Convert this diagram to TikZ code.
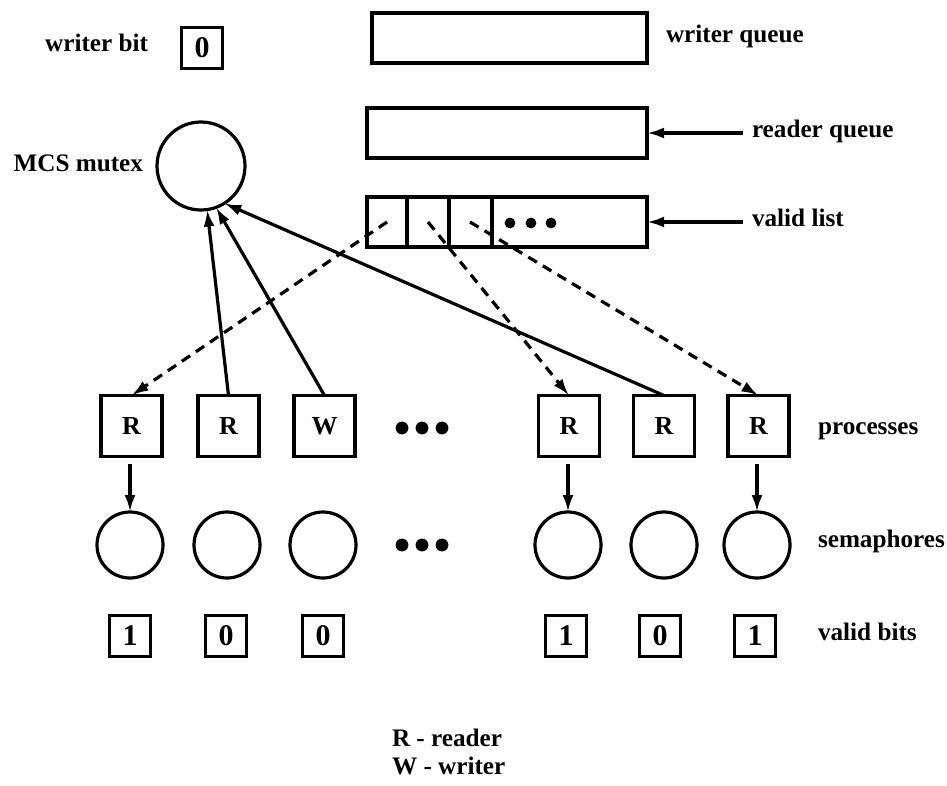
\documentclass[tikz,border=0pt]{standalone}
\usepackage{fontspec}
\setmainfont{Liberation Serif}
\usetikzlibrary{arrows.meta}
\begin{document}
\begin{tikzpicture}[x=0.5pt,y=-0.5pt,
  every node/.style={inner sep=0pt, outer sep=0pt},
  lbl/.style={font=\fontsize{12.6}{15}\selectfont\bfseries},
  bitbox/.style={draw, line width=1.6pt, minimum size=20.5pt, font=\fontsize{15}{18}\selectfont\bfseries},
  procbox/.style={draw, line width=1.6pt, minimum size=30.5pt, font=\fontsize{13}{15}\selectfont\bfseries},
  sem/.style={draw, circle, line width=1.6pt, minimum size=33pt},
  qbox/.style={draw, line width=1.6pt, minimum width=140pt, minimum height=25pt},
  arr/.style={line width=1.6pt, -{Latex[length=8.5pt,width=5.5pt]}},
  darr/.style={arr, dash pattern=on 5pt off 3.5pt}
]
\useasboundingbox (0,0) rectangle (947,786);

% top-left
\node[lbl, anchor=mid east] (wbl) at (148,47) {writer bit};
\node[bitbox] (wb) at (202,48) {0};
\node[lbl, anchor=mid east] (mcsl) at (143,167) {MCS mutex};
\node[sem, minimum size=44pt] (mcs) at (201,166) {};

% queues
\node[qbox, minimum width=137.5pt] (wq) at (509.5,38) {};
\node[qbox] (rq) at (507,133) {};
\node[qbox] (vl) at (507,222) {};
\draw[line width=1.6pt] ([xshift=20pt]vl.north west) -- ([xshift=20pt]vl.south west);
\draw[line width=1.6pt] ([xshift=41pt]vl.north west) -- ([xshift=41pt]vl.south west);
\draw[line width=1.6pt] ([xshift=62.5pt]vl.north west) -- ([xshift=62.5pt]vl.south west);
\foreach \x in {510,531,551} \fill (\x,223) circle[radius=2.7pt];
\coordinate (c1) at (387,222);
\coordinate (c2) at (428,222);
\coordinate (c3) at (470,222);

\node[lbl, anchor=mid west] (wql) at (666,38) {writer queue};
\node[lbl, anchor=mid west] (rql) at (752,133) {reader queue};
\node[lbl, anchor=mid west] (vll) at (752,222) {valid list};
\draw[arr] ([xshift=-4.5pt]rql.mid west) -- (rq.east);
\draw[arr] ([xshift=-4.5pt]vll.mid west) -- (vl.east);

% processes
\node[procbox] (p1) at (131.5,426) {R};
\node[procbox] (p2) at (228.5,426) {R};
\node[procbox] (p3) at (324.5,426) {W};
\node[procbox] (p4) at (569,426) {R};
\node[procbox] (p5) at (664,426) {R};
\node[procbox] (p6) at (758.5,426) {R};
\node[lbl, anchor=mid west] (pl) at (818,430) {processes};

% semaphores
\node[sem] (s1) at (130,545) {};
\node[sem] (s2) at (227,545) {};
\node[sem] (s3) at (323,545) {};
\node[sem] (s4) at (568,545) {};
\node[sem] (s5) at (664,545) {};
\node[sem] (s6) at (757,545) {};
\node[lbl, anchor=mid west] (sl) at (818,543) {semaphores};

% valid bits
\node[bitbox] (b1) at (130,636) {1};
\node[bitbox] (b2) at (226,636) {0};
\node[bitbox] (b3) at (323,636) {0};
\node[bitbox] (b4) at (566,636) {1};
\node[bitbox] (b5) at (660,636) {0};
\node[bitbox] (b6) at (755,636) {1};
\node[lbl, anchor=mid west] (bl) at (818,636) {valid bits};

% ellipses
\foreach \x in {402,422,442} {
  \fill (\x,428) circle[radius=3.2pt];
  \fill (\x,545) circle[radius=3.2pt];
}

% arrows to mutex
\draw[arr] (p2.north) -- (mcs.-82);
\draw[arr] (p3.north) -- (mcs.-70);
\draw[arr] (p5.north) -- (mcs.-58);

% dashed arrows from valid list
\draw[darr] (c1) -- (p1.north);
\draw[darr] (c2) -- (p4.north);
\draw[darr] (c3) -- (p6.north);

% process to semaphore
\draw[arr, shorten <=3.5pt] (s1.north |- p1.south) -- (s1.north);
\draw[arr, shorten <=3.5pt] (s4.north |- p4.south) -- (s4.north);
\draw[arr, shorten <=3.5pt] (s6.north |- p6.south) -- (s6.north);

% legend
\node[lbl, anchor=mid west] (leg1) at (392,742) {R - reader};
\node[lbl, anchor=mid west] (leg2) at (392,770) {W - writer};
\end{tikzpicture}
\end{document}
